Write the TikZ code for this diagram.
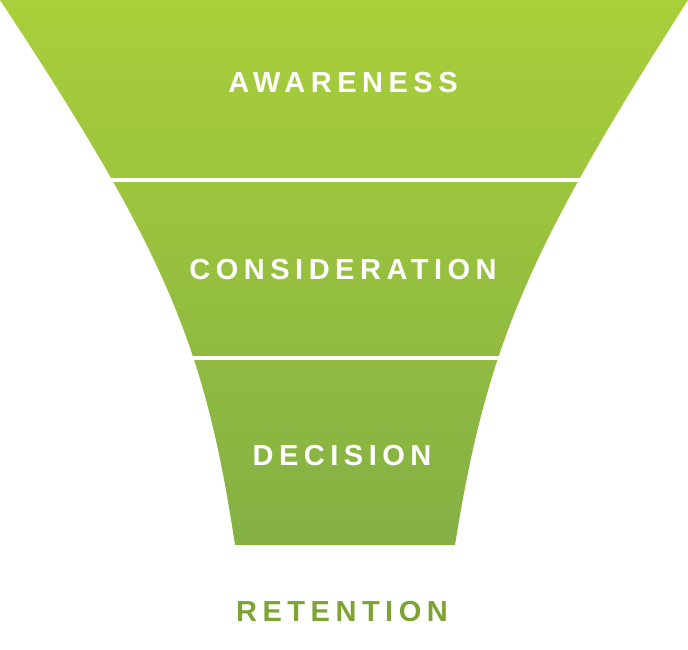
\documentclass[tikz,border=0pt]{standalone}
\usepackage{fontspec}
\setmainfont{Liberation Sans}[LetterSpace=19]
\definecolor{funneltop}{HTML}{A9CF3A}
\definecolor{funnelmid}{HTML}{A2C93F}
\definecolor{funnelbot}{HTML}{84B044}
\definecolor{retention}{HTML}{7CA333}
\tikzset{
  stage/.style = {text=white, font=\fontsize{29}{31}\selectfont\bfseries},
  gap/.style = {draw=white, line width=4pt}
}

\begin{document}
\begin{tikzpicture}[x=1pt, y=-1pt]
   \useasboundingbox (0,0) rectangle (688,650);
   % funnel body
   \shade[top color=funneltop, middle color=funnelmid, bottom color=funnelbot]
      (0,0) .. controls (165,250) and (205,345) .. (235,545)
      -- (455,545) .. controls (487,345) and (528,250) .. (688,0) -- cycle;
   % white cuts between stages
   \coordinate (cutA) at (100,180);
   \coordinate (cutB) at (180,358);
   \draw[gap] (cutA) -- ++(500,0);
   \draw[gap] (cutB) -- ++(340,0);
   % labels
   \node[stage] (awareness) at (343,83) {AWARENESS};
   \node[stage] (consideration) at (343,270) {CONSIDERATION};
   \node[stage] (decision) at (342,456) {DECISION};
   \node[stage, text=retention] (retentionlabel) at (342,612) {RETENTION};
\end{tikzpicture}
\end{document}
